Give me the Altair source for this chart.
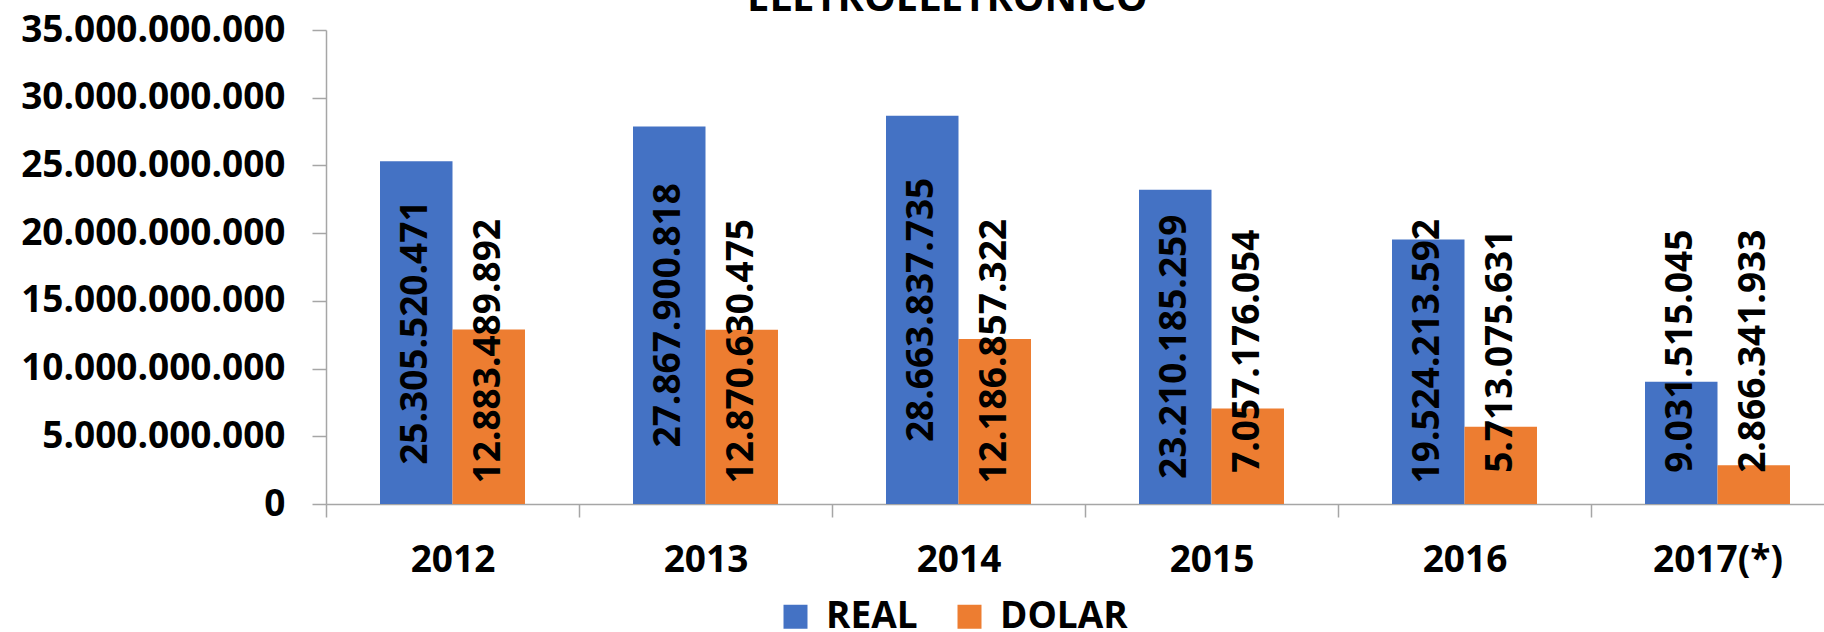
import altair as alt
import pandas as pd

years = ["2012", "2013", "2014", "2015", "2016", "2017(*)"]
real = [25305520471, 27867900818, 28663837735, 23210185259, 19524213592, 9031515045]
dolar = [12883489892, 12870630475, 12186857322, 7057176054, 5713075631, 2866341933]
series = ["REAL", "DOLAR"]
colors = ["#4472C4", "#ED7D31"]
y_ticks = [0, 5e9, 10e9, 15e9, 20e9, 25e9, 30e9, 35e9]

rows = []
for ano, r, d in zip(years, real, dolar):
    rows.append({"ano": ano, "serie": "REAL", "valor": r})
    rows.append({"ano": ano, "serie": "DOLAR", "valor": d})
df = pd.DataFrame(rows)
df["rotulo"] = df["valor"].map(lambda v: f"{v:,}".replace(",", "."))

FONT = "Open Sans"
GREY = "#a6a6a6"

x_enc = alt.X(
    "ano:N",
    sort=years,
    scale=alt.Scale(paddingInner=0, paddingOuter=0, range=[0, 1518]),
    axis=alt.Axis(
        title=None,
        tickBand="extent",
        tickSize=13,
        tickColor=GREY,
        tickWidth=1.5,
        domainColor=GREY,
        domainWidth=1.5,
        labelFont=FONT,
        labelFontSize=37,
        labelFontWeight="bold",
        labelColor="black",
        labelPadding=25,
        labelAngle=0,
        labelLimit=400,
    ),
)
xoff_enc = alt.XOffset(
    "serie:N", sort=series, scale=alt.Scale(paddingInner=0, paddingOuter=0.745)
)

y_axis = alt.Axis(
    title=None,
    values=y_ticks,
    labelExpr="replace(format(datum.value, ','), regexp(',', 'g'), '.')",
    tickSize=14,
    tickColor=GREY,
    tickWidth=1.5,
    domainColor=GREY,
    domainWidth=1.5,
    labelFont=FONT,
    labelFontSize=37,
    labelFontWeight="bold",
    labelColor="black",
    labelPadding=27,
    labelLimit=400,
    grid=False,
)

base = alt.Chart(df).encode(x=x_enc, xOffset=xoff_enc)

bars = base.mark_bar().encode(
    y=alt.Y("valor:Q", scale=alt.Scale(domain=[0, 35e9], nice=False), axis=y_axis),
    color=alt.Color(
        "serie:N",
        sort=series,
        scale=alt.Scale(domain=series, range=colors),
        legend=alt.Legend(
            title=None,
            orient="none",
            legendX=451,
            legendY=568,
            direction="horizontal",
            symbolType="square",
            symbolSize=576,
            symbolStrokeWidth=0,
            labelFont=FONT,
            labelFontSize=37,
            labelFontWeight="bold",
            labelColor="black",
            labelOffset=12,
            columnPadding=33,
            padding=0,
            labelLimit=400,
        ),
    ),
)

labels = (
    base.transform_calculate(ly="max(datum.valor / 2, 11280000000)")
    .mark_text(
        angle=270,
        align="center",
        baseline="middle",
        font=FONT,
        fontSize=37,
        fontWeight="bold",
        color="black",
    )
    .encode(y=alt.Y("ly:Q"), text="rotulo:N")
)

chart = (
    alt.layer(bars, labels)
    .properties(
        width=1498,
        height=474,
        title=alt.TitleParams(
            "ELETROELETRONICO",
            font=FONT,
            fontSize=40,
            fontWeight="bold",
            color="black",
            anchor="start",
            frame="group",
            dx=421,
            offset=-40,
            baseline="alphabetic",
        ),
        autosize=alt.AutoSizeParams(type="none"),
        padding={"left": 326, "top": 30, "right": 0, "bottom": 128},
    )
    .configure_view(stroke=None)
)

chart.save("out.html", embed_options={"renderer": "svg", "actions": False})
